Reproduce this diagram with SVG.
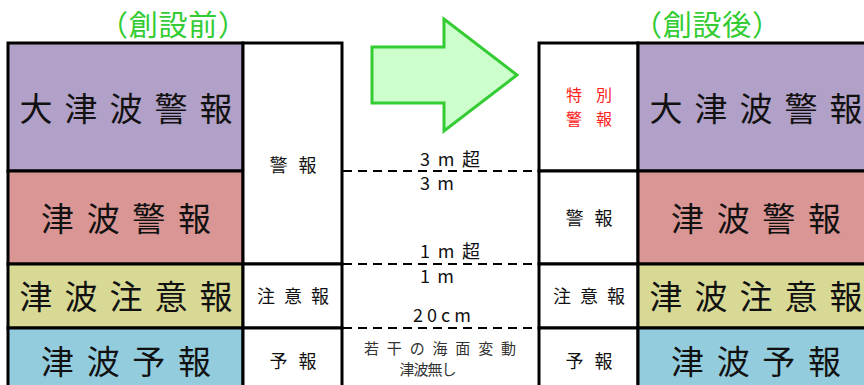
<svg xmlns="http://www.w3.org/2000/svg" width="864" height="385" viewBox="0 0 864 385">
<style>
.cell{stroke:#000;stroke-width:3}
.big{font-family:"Noto Sans CJK JP","Noto Sans CJK SC",sans-serif;font-size:33px;fill:#111;text-anchor:middle;dominant-baseline:central}
.sm{font-family:"Noto Sans CJK JP","Noto Sans CJK SC",sans-serif;font-size:18px;fill:#111;text-anchor:middle;dominant-baseline:central}
.red{fill:#ff2020;font-size:16px}
.ttl{font-family:"Noto Sans CJK JP","Noto Sans CJK SC",sans-serif;font-size:29px;fill:#33cc33;text-anchor:middle}
.mid{font-family:"Noto Sans CJK JP","Noto Sans CJK SC",sans-serif;font-size:18px;fill:#111}
.note{font-family:"Noto Sans CJK JP","Noto Sans CJK SC",sans-serif;font-size:15px;fill:#333}
.dash{stroke:#000;stroke-width:2;stroke-dasharray:9 6;fill:none}
</style>
<rect width="864" height="385" fill="#fff"/>
<text class="ttl" x="173" y="36" textLength="148" lengthAdjust="spacing">（創設前）</text>
<text class="ttl" x="707" y="36" textLength="148" lengthAdjust="spacing">（創設後）</text>
<g id="arrow">
<polygon points="372,47 444,47 444,19 517,75 444,131 444,103 372,103" fill="#ccffcc" stroke="#33cc33" stroke-width="3" stroke-linejoin="miter"/>
</g>
<!-- left table -->
<g id="before-major"><rect class="cell" x="8" y="43" width="235" height="128" fill="#b1a0c7"/><text class="big" x="126" y="107" textLength="213" lengthAdjust="spacing">大津波警報</text></g>
<g id="before-warning"><rect class="cell" x="8" y="171" width="235" height="93" fill="#d99694"/><text class="big" x="126" y="217" textLength="170" lengthAdjust="spacing">津波警報</text></g>
<g id="before-advisory"><rect class="cell" x="8" y="264" width="235" height="64" fill="#d8d994"/><text class="big" x="126" y="295" textLength="213" lengthAdjust="spacing">津波注意報</text></g>
<g id="before-forecast"><rect class="cell" x="8" y="328" width="235" height="70" fill="#93cddd"/><text class="big" x="126" y="360" textLength="170" lengthAdjust="spacing">津波予報</text></g>
<g id="before-col-warning"><rect class="cell" x="243" y="43" width="99" height="221" fill="#fff"/><text class="sm" x="293" y="164" textLength="47" lengthAdjust="spacing">警報</text></g>
<g id="before-col-advisory"><rect class="cell" x="243" y="264" width="99" height="64" fill="#fff"/><text class="sm" x="293" y="295" textLength="72" lengthAdjust="spacing">注意報</text></g>
<g id="before-col-forecast"><rect class="cell" x="243" y="328" width="99" height="70" fill="#fff"/><text class="sm" x="293" y="360" textLength="47" lengthAdjust="spacing">予報</text></g>
<!-- right table -->
<g id="after-col-special"><rect class="cell" x="539" y="43" width="99" height="128" fill="#fff"/><text class="sm red" x="589" y="94" textLength="46" lengthAdjust="spacing">特別</text><text class="sm red" x="589" y="118" textLength="46" lengthAdjust="spacing">警報</text></g>
<g id="after-col-warning"><rect class="cell" x="539" y="171" width="99" height="93" fill="#fff"/><text class="sm" x="589" y="217" textLength="47" lengthAdjust="spacing">警報</text></g>
<g id="after-col-advisory"><rect class="cell" x="539" y="264" width="99" height="64" fill="#fff"/><text class="sm" x="589" y="295" textLength="72" lengthAdjust="spacing">注意報</text></g>
<g id="after-col-forecast"><rect class="cell" x="539" y="328" width="99" height="70" fill="#fff"/><text class="sm" x="589" y="360" textLength="47" lengthAdjust="spacing">予報</text></g>
<g id="after-major"><rect class="cell" x="638" y="43" width="240" height="128" fill="#b1a0c7"/><text class="big" x="756" y="107" textLength="213" lengthAdjust="spacing">大津波警報</text></g>
<g id="after-warning"><rect class="cell" x="638" y="171" width="240" height="93" fill="#d99694"/><text class="big" x="756" y="217" textLength="170" lengthAdjust="spacing">津波警報</text></g>
<g id="after-advisory"><rect class="cell" x="638" y="264" width="240" height="64" fill="#d8d994"/><text class="big" x="756" y="295" textLength="213" lengthAdjust="spacing">津波注意報</text></g>
<g id="after-forecast"><rect class="cell" x="638" y="328" width="240" height="70" fill="#93cddd"/><text class="big" x="756" y="360" textLength="170" lengthAdjust="spacing">津波予報</text></g>
<!-- thresholds -->
<g id="connectors">
<line class="dash" x1="343" y1="171" x2="533" y2="171"/>
<line class="dash" x1="343" y1="264" x2="533" y2="264"/>
<line class="dash" x1="343" y1="328" x2="533" y2="328"/>
</g>
<g id="thresholds">
<text class="mid" x="420" y="166" textLength="60" lengthAdjust="spacing">3m超</text>
<text class="mid" x="420" y="190" textLength="34" lengthAdjust="spacing">3m</text>
<text class="mid" x="420" y="258" textLength="60" lengthAdjust="spacing">1m超</text>
<text class="mid" x="420" y="283" textLength="34" lengthAdjust="spacing">1m</text>
<text class="mid" x="413" y="322" textLength="58" lengthAdjust="spacing">20cm</text>
<text class="note" x="440" y="354" text-anchor="middle" textLength="152" lengthAdjust="spacing">若干の海面変動</text>
<text class="note" x="428" y="375" text-anchor="middle" textLength="57" lengthAdjust="spacing">津波無し</text>
</g>
</svg>
